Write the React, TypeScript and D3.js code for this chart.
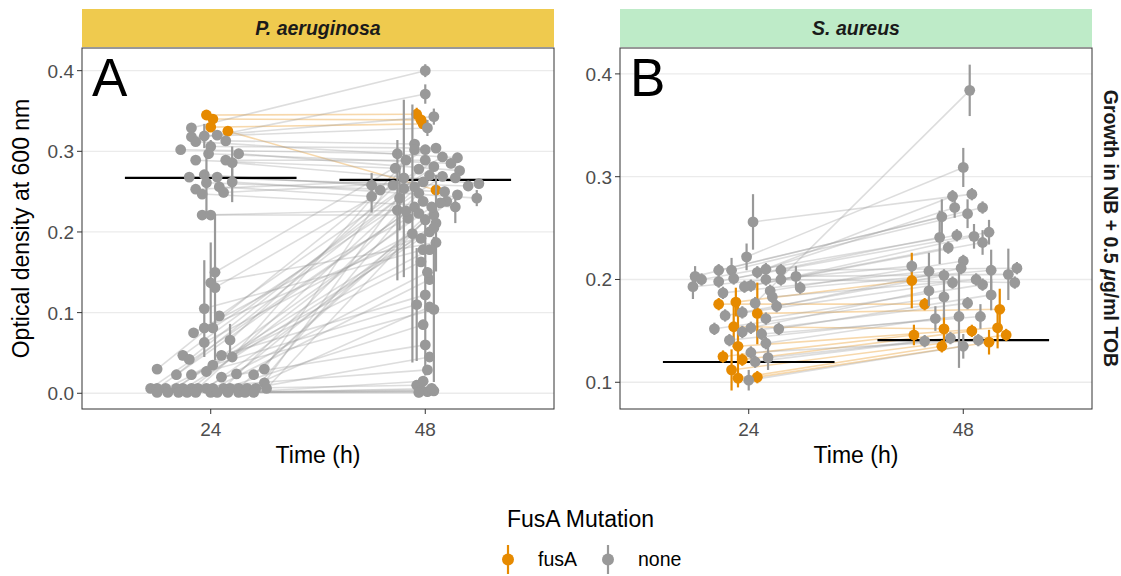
import React from 'react';
import * as d3 from 'd3';

// ---------- data ----------
const timeLabels = ['24', '48'];
const legendLabels = ['fusA', 'none'];

// Panel A (P. aeruginosa): [jitter, OD600, error] per replicate, paired by index
const paT24: number[][] = [
  [-0.02, 0.345, 0.005], [0.01, 0.34, 0.005], [0.0, 0.33, 0.005], [0.08, 0.325, 0.005],
  [-0.09, 0.329, 0.006], [0.03, 0.32, 0.006], [-0.03, 0.319, 0.015], [-0.09, 0.318, 0.005],
  [0.07, 0.313, 0.006], [-0.07, 0.312, 0.005], [0.0, 0.306, 0.008], [-0.14, 0.302, 0.005],
  [-0.01, 0.297, 0.006], [0.13, 0.297, 0.006], [-0.07, 0.289, 0.005], [0.07, 0.289, 0.006],
  [0.1, 0.286, 0.02], [-0.03, 0.271, 0.006], [-0.1, 0.268, 0.005], [0.03, 0.268, 0.006],
  [0.1, 0.262, 0.025], [-0.02, 0.261, 0.04], [0.04, 0.256, 0.006], [-0.07, 0.253, 0.005],
  [0.06, 0.249, 0.006], [-0.04, 0.247, 0.006], [-0.04, 0.221, 0.006], [0.0, 0.221, 0.006],
  [0.02, 0.15, 0.008], [0.0, 0.137, 0.05], [0.02, 0.131, 0.09], [-0.03, 0.105, 0.06],
  [0.04, 0.096, 0.006], [-0.03, 0.081, 0.006], [0.01, 0.081, 0.006], [-0.08, 0.075, 0.006],
  [0.09, 0.066, 0.02], [-0.03, 0.063, 0.006], [-0.13, 0.047, 0.006], [0.05, 0.047, 0.006],
  [0.1, 0.045, 0.006], [-0.1, 0.042, 0.006], [0.01, 0.035, 0.006], [-0.25, 0.03, 0.006],
  [0.25, 0.03, 0.006], [-0.02, 0.027, 0.006], [0.12, 0.024, 0.006], [-0.16, 0.023, 0.006],
  [-0.09, 0.023, 0.006], [0.2, 0.023, 0.006], [0.05, 0.02, 0.006], [0.25, 0.013, 0.006],
  [-0.28, 0.006, 0.004], [-0.25, 0.006, 0.004], [-0.21, 0.006, 0.004], [-0.16, 0.006, 0.004],
  [-0.13, 0.006, 0.004], [-0.09, 0.006, 0.004], [-0.06, 0.006, 0.004], [-0.02, 0.006, 0.004],
  [0.01, 0.006, 0.004], [0.06, 0.006, 0.004], [0.09, 0.006, 0.004], [0.13, 0.006, 0.004],
  [0.17, 0.006, 0.004], [0.21, 0.006, 0.004], [0.26, 0.006, 0.004],
  [-0.25, 0.001, 0.003], [-0.2, 0.001, 0.003], [-0.15, 0.001, 0.003], [-0.11, 0.001, 0.003],
  [-0.07, 0.001, 0.003], [0.0, 0.001, 0.003], [0.03, 0.001, 0.003], [0.08, 0.001, 0.003],
  [0.13, 0.001, 0.003], [0.16, 0.001, 0.003], [0.2, 0.001, 0.003],
];
const paT48: number[][] = [
  [-0.04, 0.346, 0.008], [-0.02, 0.339, 0.006], [-0.01, 0.334, 0.006], [0.05, 0.252, 0.006],
  [0.0, 0.4, 0.008], [0.0, 0.371, 0.012], [0.04, 0.343, 0.01], [0.01, 0.329, 0.01],
  [-0.05, 0.309, 0.006], [0.15, 0.292, 0.006], [0.05, 0.304, 0.006], [-0.13, 0.297, 0.006],
  [0.12, 0.285, 0.006], [0.16, 0.276, 0.006], [-0.14, 0.279, 0.006], [0.0, 0.289, 0.006],
  [0.25, 0.26, 0.006], [-0.25, 0.258, 0.015], [0.2, 0.257, 0.006], [-0.15, 0.258, 0.006],
  [0.24, 0.242, 0.01], [0.09, 0.25, 0.006], [-0.25, 0.244, 0.02], [0.14, 0.267, 0.006],
  [-0.01, 0.262, 0.006], [0.14, 0.231, 0.02], [-0.13, 0.227, 0.087], [0.04, 0.221, 0.006],
  [0.0, 0.302, 0.006], [0.05, 0.187, 0.006], [0.08, 0.293, 0.006], [-0.01, 0.178, 0.006],
  [0.04, 0.281, 0.006], [0.02, 0.2, 0.006], [0.08, 0.269, 0.006], [-0.08, 0.217, 0.006],
  [-0.1, 0.267, 0.006], [-0.06, 0.198, 0.16], [-0.05, 0.256, 0.006], [0.0, 0.122, 0.1],
  [-0.05, 0.302, 0.006], [-0.1, 0.254, 0.11], [-0.04, 0.11, 0.07], [-0.21, 0.252, 0.006],
  [-0.09, 0.289, 0.006], [0.04, 0.104, 0.09], [0.15, 0.246, 0.006], [-0.12, 0.242, 0.04],
  [0.02, 0.178, 0.006], [0.1, 0.238, 0.006], [0.0, 0.06, 0.006], [-0.03, 0.278, 0.006],
  [-0.01, 0.238, 0.006], [-0.05, 0.231, 0.006], [-0.02, 0.163, 0.006], [0.03, 0.231, 0.006],
  [0.01, 0.029, 0.006], [-0.03, 0.223, 0.006], [0.02, 0.27, 0.006], [0.05, 0.211, 0.06],
  [0.02, 0.141, 0.006], [-0.03, 0.248, 0.006], [-0.04, 0.01, 0.006], [0.07, 0.236, 0.006],
  [0.02, 0.107, 0.006], [-0.09, 0.226, 0.006], [0.0, 0.215, 0.006], [-0.02, 0.004, 0.006],
  [0.04, 0.205, 0.006], [-0.02, 0.192, 0.006], [0.01, 0.002, 0.006], [0.01, 0.15, 0.006],
  [-0.01, 0.085, 0.006], [0.04, 0.003, 0.006], [0.02, 0.045, 0.006], [-0.01, 0.015, 0.006],
  [0.03, 0.006, 0.006], [-0.03, 0.001, 0.006],
];
const paFusAIdx = [0, 1, 2, 3];
const paMedians = [0.267, 0.2645];

// Panel B (S. aureus)
const pbT24: number[][] = [
  [-0.06, 0.178, 0.014], [-0.14, 0.176, 0.006], [0.04, 0.167, 0.03], [-0.07, 0.154, 0.02],
  [-0.05, 0.135, 0.04], [-0.12, 0.125, 0.006], [-0.03, 0.122, 0.006], [-0.08, 0.112, 0.02],
  [-0.05, 0.104, 0.006], [0.04, 0.105, 0.006],
  [0.02, 0.256, 0.027], [-0.01, 0.222, 0.013], [0.04, 0.207, 0.006], [0.08, 0.21, 0.006],
  [-0.14, 0.209, 0.006], [-0.08, 0.209, 0.012], [0.15, 0.209, 0.006], [-0.25, 0.203, 0.01],
  [0.22, 0.203, 0.01], [-0.07, 0.201, 0.006], [-0.22, 0.2, 0.006], [0.15, 0.2, 0.006],
  [0.08, 0.2, 0.006], [-0.14, 0.198, 0.006], [0.01, 0.194, 0.006], [-0.02, 0.193, 0.006],
  [-0.26, 0.193, 0.012], [0.24, 0.192, 0.006], [0.1, 0.189, 0.006], [-0.12, 0.187, 0.006],
  [0.11, 0.183, 0.006], [0.03, 0.177, 0.006], [0.13, 0.174, 0.006], [-0.03, 0.168, 0.006],
  [-0.11, 0.165, 0.006], [0.08, 0.162, 0.006], [0.01, 0.153, 0.006], [-0.16, 0.152, 0.006],
  [0.14, 0.152, 0.006], [-0.03, 0.149, 0.006], [0.06, 0.147, 0.006], [-0.09, 0.141, 0.006],
  [0.08, 0.138, 0.006], [0.01, 0.129, 0.006], [0.09, 0.124, 0.012], [0.03, 0.12, 0.006],
  [0.0, 0.102, 0.01],
];
const pbT48: number[][] = [
  [-0.24, 0.199, 0.027], [-0.18, 0.176, 0.006], [0.17, 0.171, 0.02], [-0.09, 0.152, 0.015],
  [0.16, 0.153, 0.02], [-0.23, 0.146, 0.01], [0.04, 0.15, 0.006], [0.2, 0.146, 0.006],
  [-0.1, 0.135, 0.006], [0.12, 0.139, 0.012],
  [0.04, 0.283, 0.006], [0.0, 0.309, 0.019], [-0.05, 0.281, 0.006], [-0.04, 0.27, 0.01],
  [0.09, 0.27, 0.006], [0.02, 0.264, 0.014], [0.25, 0.211, 0.006], [-0.1, 0.261, 0.017],
  [0.21, 0.205, 0.025], [0.12, 0.246, 0.012], [-0.03, 0.243, 0.006], [0.05, 0.242, 0.012],
  [0.24, 0.197, 0.006], [-0.11, 0.241, 0.026], [0.09, 0.236, 0.012], [-0.07, 0.231, 0.006],
  [-0.24, 0.213, 0.006], [0.13, 0.209, 0.02], [0.0, 0.218, 0.006], [-0.16, 0.208, 0.018],
  [0.06, 0.2, 0.006], [0.03, 0.384, 0.025], [-0.01, 0.211, 0.006], [-0.09, 0.204, 0.006],
  [-0.05, 0.197, 0.006], [0.09, 0.195, 0.006], [-0.16, 0.189, 0.015], [-0.09, 0.183, 0.02],
  [0.13, 0.185, 0.015], [0.02, 0.177, 0.006], [0.08, 0.164, 0.012], [-0.02, 0.164, 0.05],
  [-0.13, 0.162, 0.012], [0.07, 0.141, 0.006], [-0.06, 0.143, 0.006], [-0.18, 0.14, 0.006],
  [0.0, 0.135, 0.012],
];
const pbFusAIdx = [0, 1, 2, 3, 4, 5, 6, 7, 8, 9];
const pbMedians = [0.1197, 0.1411];

const paTicks = [0, 0.1, 0.2, 0.3, 0.4];
const pbTicks = [0.1, 0.2, 0.3, 0.4];

// ---------- styling ----------
const FONT = "'Liberation Sans', Arial, Helvetica, sans-serif";
const ORANGE = '#E68A00';
const GREY = '#999999';
const PANEL_TOP = 48;
const PANEL_BOTTOM = 409;

interface PanelSpec {
  x0: number; x1: number; tag: string; title: string; fill: string;
  yDomain: [number, number]; ticks: number[];
  t24: number[][]; t48: number[][]; fusA: number[]; medians: number[];
}

const panels: PanelSpec[] = [
  { x0: 82, x1: 554, tag: 'A', title: 'P. aeruginosa', fill: '#EFCA4E', yDomain: [-0.0195, 0.4281], ticks: paTicks, t24: paT24, t48: paT48, fusA: paFusAIdx, medians: paMedians },
  { x0: 620, x1: 1092, tag: 'B', title: 'S. aureus', fill: '#BEEBC8', yDomain: [0.074, 0.4252], ticks: pbTicks, t24: pbT24, t48: pbT48, fusA: pbFusAIdx, medians: pbMedians },
];

const fmt = d3.format('.1f');

function Panel({ p }: { p: PanelSpec }) {
  const x = d3.scaleLinear().domain([0.4, 2.6]).range([p.x0, p.x1]);
  const y = d3.scaleLinear().domain(p.yDomain).range([PANEL_BOTTOM, PANEL_TOP]);
  const n = p.t24.length;
  const idx = d3.range(n);
  const isF = (i: number) => p.fusA.includes(i);
  const order = [...idx.filter(isF), ...idx.filter((i) => !isF(i))];
  const cx = (cat: number, j: number) => x(cat + j);
  const mid = (p.x0 + p.x1) / 2;
  return (
    <g>
      <rect x={p.x0} y={PANEL_TOP} width={p.x1 - p.x0} height={PANEL_BOTTOM - PANEL_TOP} fill="#fff" />
      {p.ticks.map((t) => (
        <line key={'g' + t} x1={p.x0} x2={p.x1} y1={y(t)} y2={y(t)} stroke="#EBEBEB" strokeWidth={1.3} />
      ))}
      {order.map((i) => (
        <line key={'l' + i}
          x1={cx(1, p.t24[i][0])} y1={y(p.t24[i][1])}
          x2={cx(2, p.t48[i][0])} y2={y(p.t48[i][1])}
          stroke={isF(i) ? ORANGE : GREY} strokeOpacity={0.33} strokeWidth={1.6} />
      ))}
      {p.medians.map((m, k) => (
        <line key={'m' + k} x1={x(k + 1 - 0.4)} x2={x(k + 1 + 0.4)} y1={y(m)} y2={y(m)} stroke="#000" strokeWidth={2.2} />
      ))}
      {[p.t24, p.t48].map((arr, k) =>
        order.map((i) => {
          const [j, v, e] = arr[i];
          const c = isF(i) ? ORANGE : GREY;
          const px = cx(k + 1, j);
          return (
            <g key={'p' + k + '-' + i}>
              <line x1={px} x2={px} y1={y(v - e)} y2={y(v + e)} stroke={c} strokeWidth={2.2} />
              <circle cx={px} cy={y(v)} r={5.4} fill={c} />
            </g>
          );
        })
      )}
      <rect x={p.x0} y={PANEL_TOP} width={p.x1 - p.x0} height={PANEL_BOTTOM - PANEL_TOP} fill="none" stroke="#333" strokeWidth={1} />
      <text x={p.x0 + 10} y={96} fontSize={53} fontFamily={FONT} fill="#000">{p.tag}</text>
      <rect x={p.x0} y={9} width={p.x1 - p.x0} height={38} fill={p.fill} />
      <text x={mid} y={35} textAnchor="middle" fontSize={19.5} fontWeight="bold" fontStyle="italic" fontFamily={FONT} fill="#1A1A1A">{p.title}</text>
      {p.ticks.map((t) => (
        <g key={'yt' + t}>
          <line x1={p.x0 - 5} x2={p.x0} y1={y(t)} y2={y(t)} stroke="#333" strokeWidth={1} />
          <text x={p.x0 - 8} y={y(t) + 7} textAnchor="end" fontSize={19} fontFamily={FONT} fill="#4D4D4D">{fmt(t)}</text>
        </g>
      ))}
      {timeLabels.map((lab, k) => (
        <g key={'xt' + lab}>
          <line x1={x(k + 1)} x2={x(k + 1)} y1={PANEL_BOTTOM} y2={PANEL_BOTTOM + 5} stroke="#333" strokeWidth={1} />
          <text x={x(k + 1)} y={436} textAnchor="middle" fontSize={19} fontFamily={FONT} fill="#4D4D4D">{lab}</text>
        </g>
      ))}
      <text x={mid} y={463} textAnchor="middle" fontSize={23} fontFamily={FONT} fill="#000">Time (h)</text>
    </g>
  );
}

export default function App() {
  const legendColors = [ORANGE, GREY];
  const legendX = [508, 608];
  return (
    <svg width={1121} height={576} style={{ position: 'absolute', left: 0, top: 0, background: '#fff' }}>
      <rect x={0} y={0} width={1121} height={576} fill="#fff" />
      {panels.map((p) => <Panel key={p.tag} p={p} />)}
      <text transform="translate(29,228.5) rotate(-90)" textAnchor="middle" fontSize={23} fontFamily={FONT} fill="#000">Optical density at 600 nm</text>
      <text transform="translate(1104,228.5) rotate(90)" textAnchor="middle" fontSize={19.5} fontWeight="bold" fontFamily={FONT} fill="#1A1A1A">
        Growth in NB + 0.5 <tspan fontStyle="italic">μ</tspan>g/ml TOB
      </text>
      <text x={507} y={527} fontSize={23} fontFamily={FONT} fill="#000">FusA Mutation</text>
      {legendLabels.map((lab, k) => (
        <g key={lab}>
          <line x1={legendX[k]} x2={legendX[k]} y1={545} y2={574} stroke={legendColors[k]} strokeWidth={2.2} />
          <circle cx={legendX[k]} cy={559.5} r={6} fill={legendColors[k]} />
          <text x={legendX[k] + 30} y={566} fontSize={19.5} fontFamily={FONT} fill="#000">{lab}</text>
        </g>
      ))}
    </svg>
  );
}
